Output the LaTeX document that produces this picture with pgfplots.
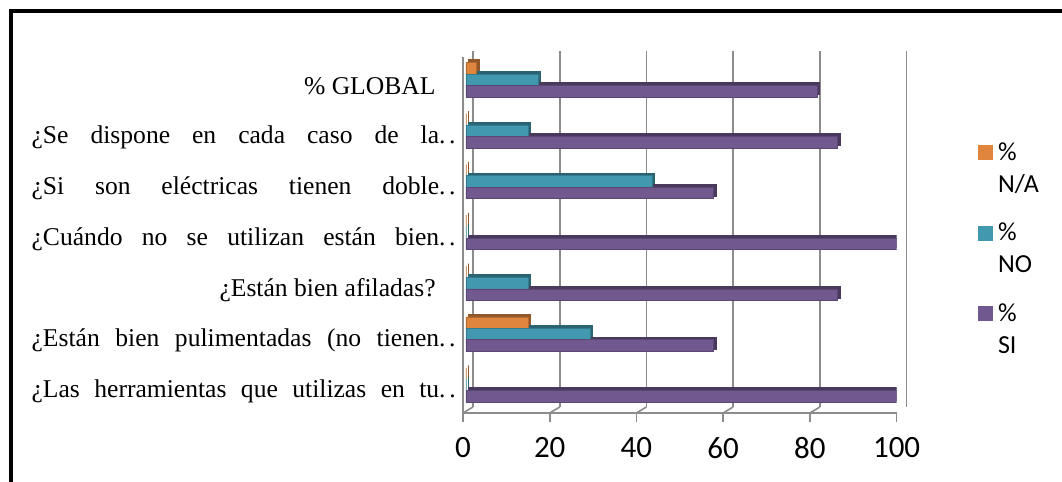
\documentclass[border=0pt]{standalone}
\usepackage{fontspec}
\setmainfont{Liberation Serif}
\newfontfamily\calibri{Carlito}
\usepackage{pgfplots}
\usepackage{pgfplotstable}
\pgfplotsset{compat=1.18}

\definecolor{cNA}{RGB}{224,133,61}
\definecolor{cNO}{RGB}{65,152,175}
\definecolor{cSI}{RGB}{113,88,143}
\definecolor{gridgray}{RGB}{140,140,140}

% percentage of answers per question (0 = bottom row, 6 = global)
\pgfplotstableread{
cat na    no    si
0   0     0     100
1   14.29 28.57 57.14
2   0     14.29 85.71
3   0     0     100
4   0     42.86 57.14
5   0     14.29 85.71
6   2.38  16.67 80.95
}\datatable

% struts that space the two-line legend entries
\newcommand{\firstline}[1]{\rule{0pt}{18.8pt}#1}
\newcommand{\secondline}[1]{\rule{0pt}{10.5pt}#1}
\newcommand{\cut}{.\kern1.8pt.}

\begin{document}
\begin{tikzpicture}
\useasboundingbox (0,0) rectangle (531pt,241pt);
\fill[white] (0,0) rectangle (531pt,241pt);
\begin{scope}
  \clip (0,0) rectangle (531pt,241pt);
  \draw[line width=1.7pt] (5.5pt,-5pt) -- (5.5pt,235.5pt) -- (540pt,235.5pt);
\end{scope}
\begin{axis}[
  at={(231.5pt,34.5pt)}, anchor=south west,
  scale only axis, width=216.8pt, height=178pt,
  xmin=0, xmax=100, ymin=-0.5, ymax=6.5,
  xbar, bar width=5.8pt,
  axis x line*=bottom, axis y line*=left,
  axis line style={gridgray, line width=0.8pt, -},
  tick align=outside, major tick length=4.5pt,
  xtick={0,20,...,100},
  xtick style={gridgray, line width=0.8pt},
  ytick={0,...,6},
  ytick style={draw=none},
  xmajorgrids,
  grid style={gridgray, line width=0.8pt, xshift=5pt, yshift=3pt},
  /pgf/number format/assume math mode=true,
  xticklabel style={font=\calibri\fontsize{15.5}{18}\selectfont, inner sep=0pt, anchor=north, yshift=-7.5pt},
  yticklabel style={font=\fontsize{12.8}{15}\selectfont, inner sep=0pt, anchor=east, xshift=1pt, yshift=-2pt},
  yticklabels={
    {\hbox to 212pt{¿Las\hfill herramientas\hfill que\hfill utilizas\hfill en\hfill tu\cut}},
    {\hbox to 212pt{¿Están\hfill bien\hfill pulimentadas\hfill (no\hfill tienen\cut}},
    {\hbox to 212pt{\hfill ¿Están bien afiladas?\hspace*{10pt}}},
    {\hbox to 212pt{¿Cuándo\hfill no\hfill se\hfill utilizan\hfill están\hfill bien\cut}},
    {\hbox to 212pt{¿Si\hfill son\hfill eléctricas\hfill tienen\hfill doble\cut}},
    {\hbox to 212pt{¿Se\hfill dispone\hfill en\hfill cada\hfill caso\hfill de\hfill la\cut}},
    {\hbox to 212pt{\hfill \% GLOBAL\hspace*{10pt}}}
  },
  legend style={at={(1.18,0.46)}, anchor=west, draw=none, fill=none, inner sep=0pt,
    font=\calibri\fontsize{13}{16}\selectfont, row sep=0pt, column sep=0.5pt,
    cells={anchor=base west, inner sep=0pt}},
  legend image code/.code={\fill[#1, draw=none] (0pt,0pt) rectangle (7.5pt,7.5pt);},
  shade/.style={xbar, bar shift=#1, xshift=2.7pt, yshift=1.2pt, forget plot, line width=0.8pt},
]
% darker end and top faces of the bars
\addplot[shade=7pt, fill=cNA!65!black, draw=cNA!65!black] table[x=na, y=cat] {\datatable};
\addplot[shade=1.3pt, fill=cNO!65!black, draw=cNO!65!black] table[x=no, y=cat] {\datatable};
\addplot[shade=-4.4pt, fill=cSI!65!black, draw=cSI!65!black] table[x=si, y=cat] {\datatable};
% front faces
\addplot[xbar, bar shift=7pt, fill=cNA, draw=cNA!80!black, line width=0.3pt, xshift=1.5pt]
  table[x=na, y=cat] {\datatable};
\addlegendentry{\%}
\addlegendimage{empty legend}
\addlegendentry{\secondline{N/A}}
\addplot[xbar, bar shift=1.3pt, fill=cNO, draw=cNO!80!black, line width=0.3pt, xshift=1.5pt]
  table[x=no, y=cat] {\datatable};
\addlegendentry{\firstline{\%}}
\addlegendimage{empty legend}
\addlegendentry{\secondline{NO}}
\addplot[xbar, bar shift=-4.4pt, fill=cSI, draw=cSI!80!black, line width=0.3pt, xshift=1.5pt]
  table[x=si, y=cat] {\datatable};
\addlegendentry{\firstline{\%}}
\addlegendimage{empty legend}
\addlegendentry{\secondline{SI}}
% category separators on the value axis and the floor edges of the back wall
\pgfplotsinvokeforeach{-0.5,0.5,1.5,2.5,3.5,4.5,5.5,6.5}{
  \draw[gridgray, line width=0.8pt] (axis cs:0,#1) -- ++(-4pt,0pt);
}
\pgfplotsinvokeforeach{0,20,40,60,80,100}{
  \draw[gridgray, line width=0.8pt] (axis cs:#1,-0.5) -- ++(5pt,3pt);
}
\draw[gridgray, line width=0.8pt] (axis cs:0,6.5) -- ++(5pt,3pt);
\end{axis}
\end{tikzpicture}
\end{document}
